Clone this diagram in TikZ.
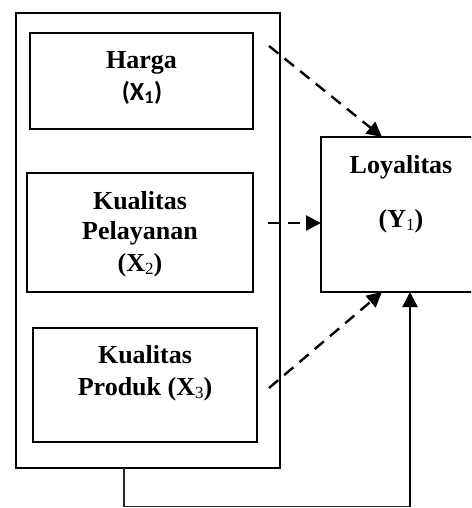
\documentclass[tikz,border=0pt]{standalone}
\usepackage{fontspec}
\setmainfont{Liberation Serif}
\newfontfamily\calib{Carlito}
\usetikzlibrary{arrows.meta}
\newcommand\subnum[1]{\raisebox{-3pt}{\fontsize{17}{20}\selectfont\mdseries #1}}
\begin{document}
\begin{tikzpicture}[x=1pt,y=-1pt,
  box/.style={draw, line width=2.4pt, inner sep=0pt, outer sep=0pt},
  frame/.style={draw, line width=1.7pt, inner sep=0pt, outer sep=0pt},
  lbl/.style={anchor=base, inner sep=0pt, font=\fontsize{26}{30}\selectfont\bfseries},
  dasharrow/.style={line width=2.4pt, dash pattern=on 12pt off 8pt, -{Triangle[length=15pt,width=15pt]}},
  solidarrow/.style={line width=2.4pt, -{Triangle[length=15pt,width=15pt]}},
  thinline/.style={line width=1.3pt, draw=black!85}]
\clip (0,0) rectangle (471,508);
\fill[white] (0,0) rectangle (471,508);
% boxes
\node[frame, minimum width=264pt, minimum height=455pt] (outer) at (148,240.5) {};
\node[box, minimum width=223pt, minimum height=96pt] (harga) at (141.5,81) {};
\node[box, minimum width=226pt, minimum height=119pt] (pel) at (140,232.5) {};
\node[box, minimum width=224pt, minimum height=114pt] (prod) at (145,385) {};
\node[box, minimum width=160pt, minimum height=155pt] (loy) at (401,214.5) {};
% texts
\node[lbl] (t1) at (141.5,69) {Harga};
\node[lbl, font=\fontsize{26}{30}\selectfont\calib\bfseries] (t2) at (142,100) {(X\textsubscript{1})};
\node[lbl] (t3) at (140,209) {Kualitas};
\node[lbl] (t4) at (140,239) {Pelayanan};
\node[lbl] (t5) at (140,271) {(X\subnum{2})};
\node[lbl] (t6) at (145,363) {Kualitas};
\node[lbl] (t7) at (145,395) {Produk (X\subnum{3})};
\node[lbl] (t8) at (401,173) {Loyalitas};
\node[lbl] (t9) at (401,227) {(Y\subnum{1})};
% connectors
\coordinate (s1) at (269,46);
\coordinate (s2) at (268,223);
\coordinate (s3) at (269,388);
\coordinate (c) at (410,506.5);
\draw[dasharrow] (s1) -- ([xshift=61pt]loy.north west);
\draw[dasharrow] (s2) -- ([yshift=-8.5pt]loy.west);
\draw[dasharrow] (s3) -- ([xshift=61pt]loy.south west);
\draw[thinline] ([xshift=-24pt]outer.south) |- (c);
\draw[solidarrow] (c) -- ([xshift=89pt]loy.south west);
\end{tikzpicture}
\end{document}
